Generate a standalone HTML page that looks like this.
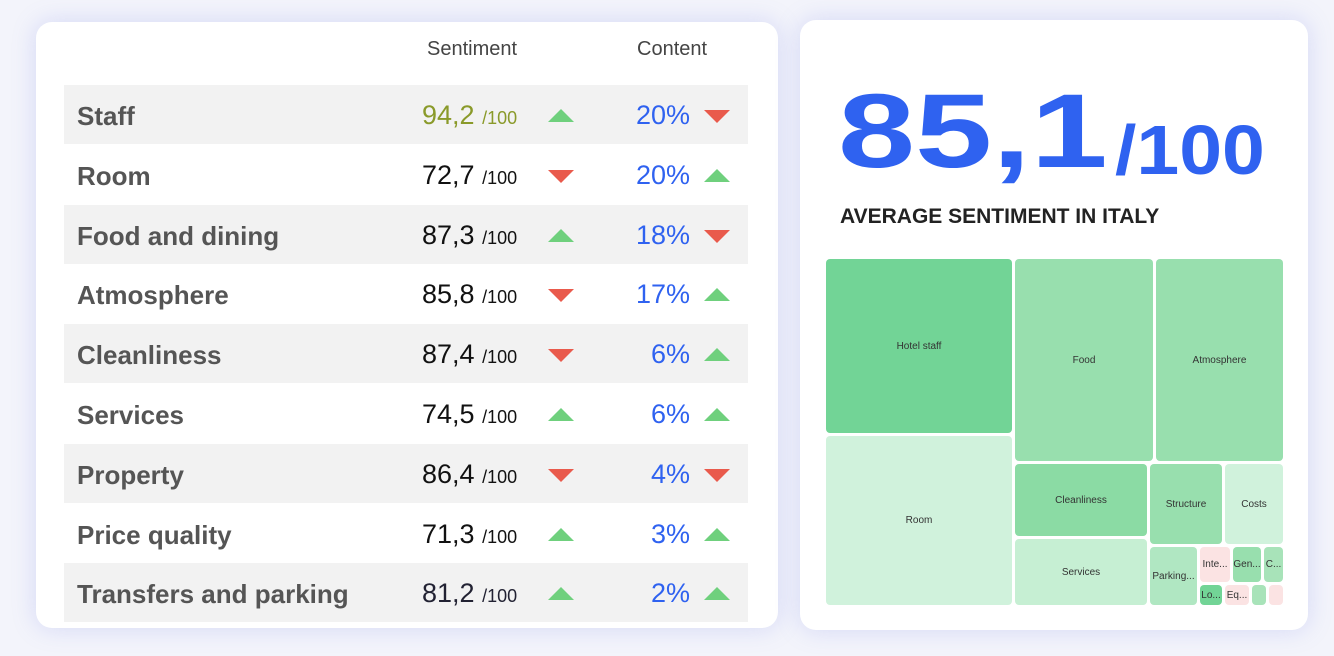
<!DOCTYPE html><html><head><meta charset="utf-8"><style>
body{margin:0;width:1334px;height:656px;background:#f3f4fb;font-family:"Liberation Sans",sans-serif;position:relative;overflow:hidden}
.card{position:absolute;background:#fff;border-radius:16px;box-shadow:0 0 24px rgba(120,130,230,.25)}
.row{position:absolute;left:64px;width:684px;height:59px}
.row.g{background:#f2f2f2}
.lab{position:absolute;left:13px;top:16px;font-size:26px;font-weight:bold;color:#555}
.num{position:absolute;left:358px;top:15px;font-size:27px;color:#111}
.num small{font-size:18px}
.pct{position:absolute;right:58px;top:15px;font-size:27px;color:#2f62f0}
.up,.dn{position:absolute;width:0;height:0;border-left:13px solid transparent;border-right:13px solid transparent}
.up{border-bottom:13px solid #6fd07d}
.dn{border-top:13px solid #e95a4c}
.t{position:absolute;border-radius:4px;font-size:10px;color:#333;display:flex;align-items:center;justify-content:center;overflow:hidden;white-space:nowrap}
</style></head><body>
<div class="card" style="left:36px;top:22px;width:742px;height:606px"></div>
<div style="position:absolute;left:427px;top:38px;font-size:20px;color:#444">Sentiment</div>
<div style="position:absolute;left:637px;top:38px;font-size:20px;color:#444">Content</div>
<div class="card" style="left:800px;top:20px;width:508px;height:610px"></div>
<div style="position:absolute;left:838px;top:72px;font-size:105px;line-height:120px;font-weight:bold;color:#2f62f0;transform:scaleX(1.32);transform-origin:0 0">85,1</div>
<div style="position:absolute;left:1115px;top:110px;font-size:70px;line-height:80px;font-weight:bold;color:#2f62f0;transform:scaleX(1.1);transform-origin:0 0">/100</div>
<div style="position:absolute;left:840px;top:205px;font-size:21px;font-weight:bold;color:#222">AVERAGE SENTIMENT IN ITALY</div>
<div id="rows"></div>
<script>
var d=[["Staff","94,2","20%",1,0,1],["Room","72,7","20%",0,1],["Food and dining","87,3","18%",1,0],["Atmosphere","85,8","17%",0,1],["Cleanliness","87,4","6%",0,1],["Services","74,5","6%",1,1],["Property","86,4","4%",0,0],["Price quality","71,3","3%",1,1],["Transfers and parking","81,2","2%",1,1]];
var h="";d.forEach(function(r,i){var y=85+i*59.8;var c=r[5]?"#8a9a2a":(i==8?"#223":"#111");
h+='<div class="row'+(i%2==0?' g':'')+'" style="top:'+y+'px"><div class="lab">'+r[0]+'</div><div class="num" style="color:'+c+'">'+r[1]+' <small>/100</small></div><div class="pct">'+r[2]+'</div>'+
'<div class="'+(r[3]?'up':'dn')+'" style="left:484px;top:'+(r[3]?24:25)+'px"></div><div class="'+(r[4]?'up':'dn')+'" style="left:640px;top:'+(r[4]?24:25)+'px"></div></div>';});
document.getElementById("rows").innerHTML=h;
var t=[[826,259,1012,433,"#72d496","Hotel staff"],[826,436,1012,605,"#d0f2dc","Room"],[1015,259,1153,461,"#98dfae","Food"],[1156,259,1283,461,"#98dfae","Atmosphere"],[1015,464,1147,536,"#8bdba4","Cleanliness"],[1015,539,1147,605,"#c6efd3","Services"],[1150,464,1222,544,"#98dfae","Structure"],[1225,464,1283,544,"#d0f2dc","Costs"],[1150,547,1197,605,"#b0e7c2","Parking..."],[1200,547,1230,582,"#fbe3e3","Inte..."],[1233,547,1261,582,"#98dfae","Gen..."],[1264,547,1283,582,"#a8e3b9","C..."],[1200,585,1222,605,"#72d496","Lo..."],[1225,585,1249,605,"#fbe3e3","Eq..."],[1252,585,1266,605,"#a8e3b9",""],[1269,585,1283,605,"#fbe3e3",""]];
var s="";t.forEach(function(a){s+='<div class="t" style="left:'+a[0]+'px;top:'+a[1]+'px;width:'+(a[2]-a[0])+'px;height:'+(a[3]-a[1])+'px;background:'+a[4]+'">'+a[5]+'</div>';});
document.body.insertAdjacentHTML("beforeend",s);
</script>
</body></html>
